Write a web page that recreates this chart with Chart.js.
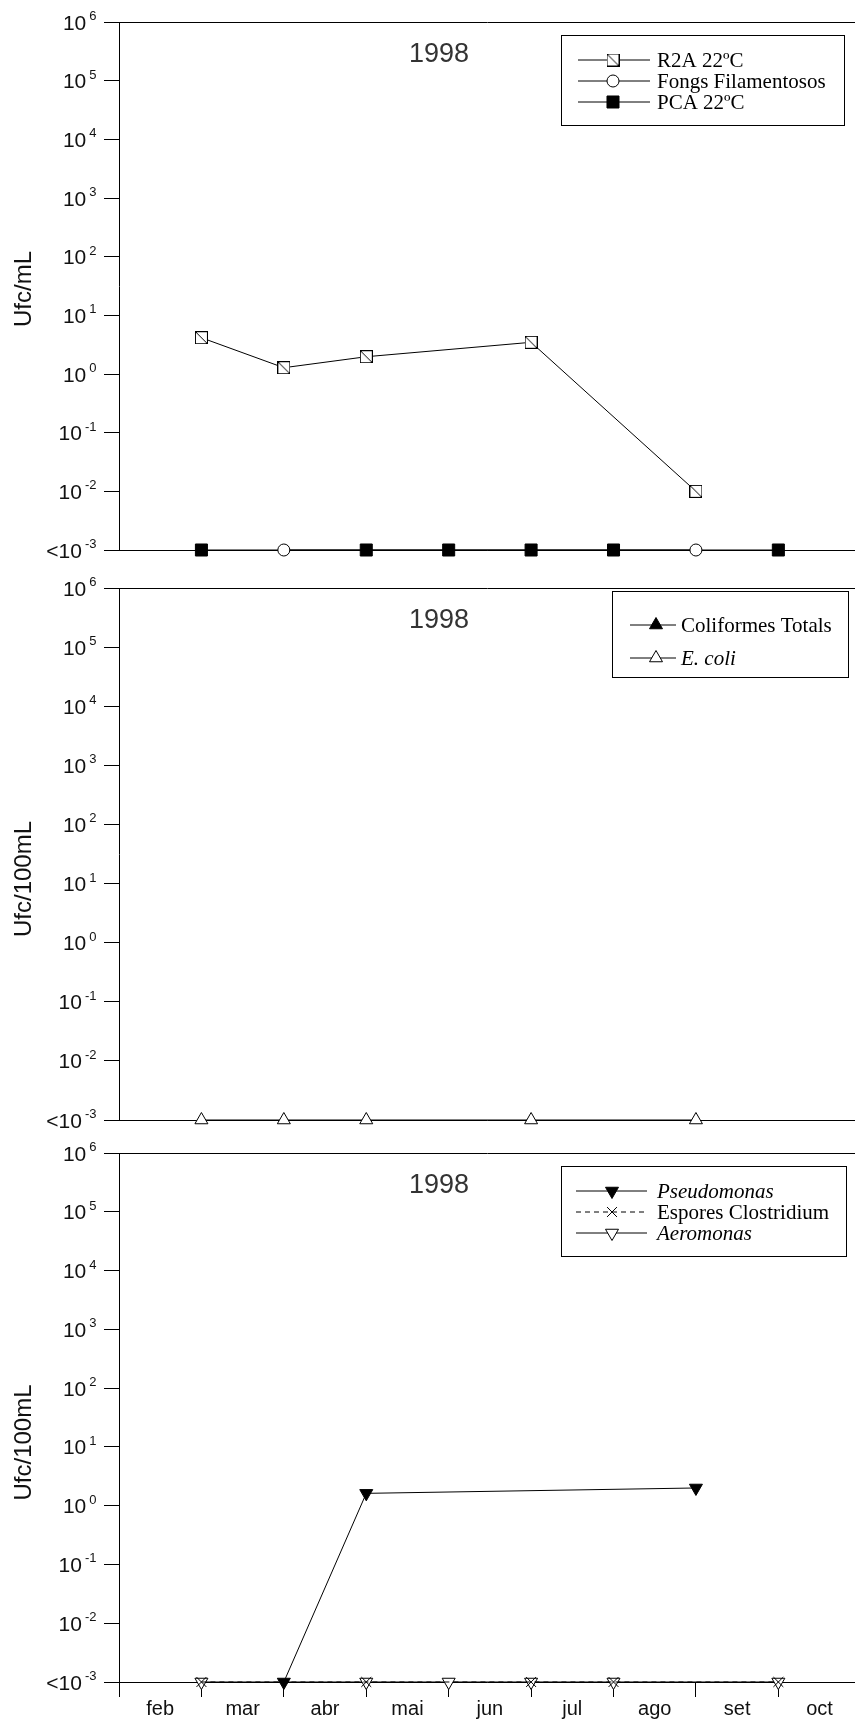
<!DOCTYPE html>
<html><head><meta charset="utf-8">
<script src="https://cdn.jsdelivr.net/npm/chart.js@4.4.1/dist/chart.umd.min.js"></script>
<style>
html,body{margin:0;padding:0;background:#fff;}
body{width:855px;height:1722px;position:relative;overflow:hidden;}
canvas{position:absolute;left:0;}
</style></head><body>
<canvas id="c1" width="855" height="565" style="top:0px"></canvas>
<canvas id="c2" width="855" height="565" style="top:565px"></canvas>
<canvas id="c3" width="855" height="592" style="top:1130px"></canvas>
<script>
// ---------- data ----------
const monthLabels = ['feb','mar','abr','mai','jun','jul','ago','set','oct'];
const monthLabelPositions = [0.5,1.5,2.5,3.5,4.5,5.5,6.5,7.5,8.5];
const monthBoundaries = [0,1,2,3,4,5,6,7,8];
const xMax = 8.93;
const yTickValues = [1e-3,1e-2,1e-1,1e0,1e1,1e2,1e3,1e4,1e5,1e6];
const yTickBase = ['<10','10','10','10','10','10','10','10','10','10'];
const yTickExp = ['-3','-2','-1','0','1','2','3','4','5','6'];
const yearLabel = '1998';
const yTitles = ['Ufc/mL','Ufc/100mL','Ufc/100mL'];

// Panel 1
const r2aLabel = 'R2A 22ºC';
const r2aX = [1,2,3,5,7];
const r2aY = [4.15,1.28,1.97,3.47,0.01];
const fongsLabel = 'Fongs Filamentosos';
const fongsX = [2,7];
const fongsY = [0.001,0.001];
const pcaLabel = 'PCA 22ºC';
const pcaX = [1,3,4,5,6,8];
const pcaY = [0.001,0.001,0.001,0.001,0.001,0.001];
// Panel 2
const colifLabel = 'Coliformes Totals';
const colifX = [];
const colifY = [];
const ecoliLabel = 'E. coli';
const ecoliX = [1,2,3,5,7];
const ecoliY = [0.001,0.001,0.001,0.001,0.001];
// Panel 3
const pseudoLabel = 'Pseudomonas';
const pseudoX = [2,3,7];
const pseudoY = [0.001,1.62,2.0];
const clostLabel = 'Espores Clostridium';
const clostX = [1,3,5,6,8];
const clostY = [0.001,0.001,0.001,0.001,0.001];
const aeroLabel = 'Aeromonas';
const aeroX = [1,3,4,5,6,8];
const aeroY = [0.001,0.001,0.001,0.001,0.001,0.001];

// ---------- helpers ----------
const pts = (xs, ys) => xs.map((x, i) => ({x: x, y: ys[i]}));
const SANS = '"Liberation Sans", Arial, Helvetica, sans-serif';
const SERIF = '"Liberation Serif", "Times New Roman", serif';
Chart.defaults.font.family = SANS;

function makeDiagSquare(size) {
  const c = document.createElement('canvas');
  c.width = size; c.height = size;
  const g = c.getContext('2d');
  g.fillStyle = '#fff'; g.fillRect(0, 0, size, size);
  g.strokeStyle = '#000'; g.lineWidth = 1;
  g.strokeRect(0.5, 0.5, size - 1, size - 1);
  g.beginPath(); g.moveTo(0.5, 0.5); g.lineTo(size - 0.5, size - 0.5); g.stroke();
  return c;
}
const diagSquare = makeDiagSquare(13);

function ds(label, xs, ys, style, extra) {
  return Object.assign({
    label: label,
    data: pts(xs, ys),
    borderColor: '#000',
    borderWidth: 1,
    pointStyle: style,
    pointRadius: 7,
    pointBorderColor: '#000',
    pointBackgroundColor: '#fff',
    pointBorderWidth: 1,
    tension: 0,
    fill: false,
    clip: false
  }, extra || {});
}

const boxLegend = {
  id: 'boxLegend',
  afterDraw(chart, args, o) {
    if (!o || !o.box) return;
    const ctx = chart.ctx, off = o.canvasTop;
    ctx.save();
    ctx.strokeStyle = '#000'; ctx.lineWidth = 1;
    ctx.strokeRect(o.box.x + 0.5, o.box.y - off + 0.5, o.box.w, o.box.h);
    chart.data.datasets.forEach((d, i) => {
      const y = o.rows[i] - off;
      ctx.beginPath();
      ctx.strokeStyle = '#000';
      ctx.setLineDash(d.borderDash || []);
      ctx.moveTo(o.line[0], y); ctx.lineTo(o.line[1], y); ctx.stroke();
      ctx.setLineDash([]);
      ctx.fillStyle = d.pointBackgroundColor;
      ctx.strokeStyle = d.pointBorderColor;
      ctx.lineWidth = 1;
      Chart.helpers.drawPoint(ctx, {
        pointStyle: d.pointStyle, rotation: d.pointRotation || 0,
        radius: d.pointRadius, borderWidth: 1
      }, o.markerX, y);
      ctx.fillStyle = '#000';
      ctx.font = (d.legendItalic ? 'italic ' : '') + o.fontSize + 'px ' + SERIF;
      ctx.textAlign = 'left'; ctx.textBaseline = 'middle';
      ctx.fillText(d.label, o.textX, y + 1);
    });
    ctx.restore();
  }
};

const decor = {
  id: 'decor',
  afterDraw(chart, args, o) {
    const ctx = chart.ctx, ys = chart.scales.y, ca = chart.chartArea;
    ctx.save();
    ctx.fillStyle = '#111';
    yTickValues.forEach((v, i) => {
      const py = ys.getPixelForValue(v);
      ctx.font = '13px ' + SANS;
      const ew = ctx.measureText(yTickExp[i]).width;
      ctx.textAlign = 'left'; ctx.textBaseline = 'alphabetic';
      ctx.fillText(yTickExp[i], o.labelRight - ew, py - 2);
      ctx.font = '21px ' + SANS;
      ctx.textAlign = 'right';
      ctx.fillText(yTickBase[i], o.labelRight - ew - 3, py + 7.5);
    });
    ctx.font = '27px ' + SANS;
    ctx.fillStyle = '#333';
    ctx.textAlign = 'center'; ctx.textBaseline = 'alphabetic';
    ctx.fillText(yearLabel, o.yearX, ca.top + 40);
    ctx.translate(o.titleX, (ca.top + ca.bottom) / 2 + o.titleDy);
    ctx.rotate(-Math.PI / 2);
    ctx.font = '24px ' + SANS;
    ctx.fillStyle = '#111';
    ctx.textAlign = 'center'; ctx.textBaseline = 'alphabetic';
    ctx.fillText(o.yTitle, 0, 0);
    ctx.restore();
  }
};

function makeChart(id, p) {
  const xTicksVisible = p.showMonths;
  const allXTicks = monthBoundaries.concat(monthLabelPositions).sort((a, b) => a - b);
  return new Chart(document.getElementById(id), {
    type: 'line',
    data: { datasets: p.datasets },
    plugins: [boxLegend, decor],
    options: {
      responsive: false, animation: false, devicePixelRatio: 1, events: [],
      layout: { autoPadding: false, padding: { top: p.padTop, left: 0, right: 0, bottom: 0 } },
      plugins: {
        legend: { display: false }, tooltip: { enabled: false }, title: { display: false },
        boxLegend: Object.assign({ canvasTop: p.canvasTop }, p.legend),
        decor: { labelRight: 96.5, yearX: 439, titleX: 31, titleDy: p.titleDy, yTitle: p.yTitle }
      },
      scales: {
        x: {
          type: 'linear', min: 0, max: xMax,
          afterFit: s => { s.height = p.xHeight; },
          afterBuildTicks: s => { s.ticks = (xTicksVisible ? allXTicks : monthBoundaries).map(v => ({ value: v })); },
          grid: {
            display: xTicksVisible, drawOnChartArea: false, drawTicks: true, tickLength: 15,
            color: 'rgba(0,0,0,0)',
            tickColor: c => (c.tick && Number.isInteger(c.tick.value)) ? '#000' : 'rgba(0,0,0,0)',
            tickWidth: 1
          },
          border: { display: true, color: '#000', width: 1 },
          ticks: {
            display: xTicksVisible, autoSkip: false, maxRotation: 0, minRotation: 0, padding: 0,
            color: '#111', font: { size: 20, family: SANS },
            callback: (v) => { const k = monthLabelPositions.indexOf(v); return k >= 0 ? monthLabels[k] : ''; }
          }
        },
        y: {
          type: 'logarithmic', min: 1e-3, max: 1e6,
          afterFit: s => { s.width = 119; },
          afterBuildTicks: s => { s.ticks = yTickValues.map(v => ({ value: v })); },
          grid: {
            drawOnChartArea: true, drawTicks: true, tickLength: 15,
            color: c => (c.tick && c.tick.value === 1e6) ? '#000' : 'rgba(0,0,0,0)',
            tickColor: '#000', lineWidth: 1, tickWidth: 1
          },
          border: { display: true, color: '#000', width: 1 },
          ticks: { display: false }
        }
      }
    }
  });
}

makeChart('c1', {
  canvasTop: 0, padTop: 22, xHeight: 15, showMonths: false, titleDy: 3, yTitle: yTitles[0],
  legend: { box: { x: 561, y: 35, w: 283, h: 90 }, rows: [60, 81, 102], line: [578, 650], markerX: 613, textX: 657, fontSize: 21 },
  datasets: [
    ds(r2aLabel, r2aX, r2aY, diagSquare, { pointRadius: 7 }),
    ds(fongsLabel, fongsX, fongsY, 'circle', { pointRadius: 6 }),
    ds(pcaLabel, pcaX, pcaY, 'rect', { pointRadius: 8.5, pointBackgroundColor: '#000' })
  ]
});

makeChart('c2', {
  canvasTop: 565, padTop: 23, xHeight: 10, showMonths: false, titleDy: 25, yTitle: yTitles[1],
  legend: { box: { x: 612, y: 591, w: 236, h: 86 }, rows: [625, 658], line: [630, 676], markerX: 656, textX: 681, fontSize: 21 },
  datasets: [
    ds(colifLabel, colifX, colifY, 'triangle', { pointRadius: 7.5, pointBackgroundColor: '#000' }),
    ds(ecoliLabel, ecoliX, ecoliY, 'triangle', { pointRadius: 7.5, legendItalic: true })
  ]
});

makeChart('c3', {
  canvasTop: 1130, padTop: 23, xHeight: 40, showMonths: true, titleDy: 25, yTitle: yTitles[2],
  legend: { box: { x: 561, y: 1166, w: 285, h: 90 }, rows: [1191, 1212, 1233], line: [576, 647], markerX: 612, textX: 657, fontSize: 21 },
  datasets: [
    ds(pseudoLabel, pseudoX, pseudoY, 'triangle', { pointRadius: 7.5, pointRotation: 180, pointBackgroundColor: '#000', legendItalic: true }),
    ds(clostLabel, clostX, clostY, 'crossRot', { pointRadius: 7, borderDash: [5, 4] }),
    ds(aeroLabel, aeroX, aeroY, 'triangle', { pointRadius: 7.5, pointRotation: 180, legendItalic: true })
  ]
});
</script>
</body></html>
